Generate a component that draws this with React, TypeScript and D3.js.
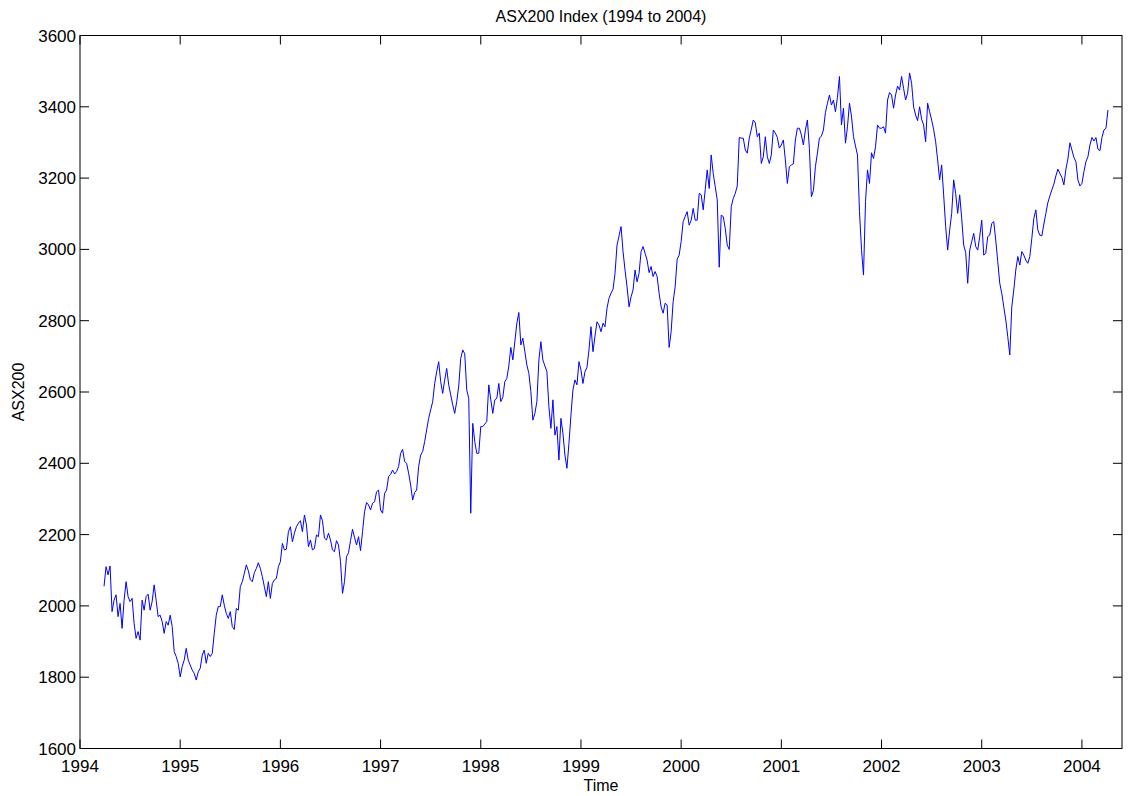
import React from 'react';
import * as d3 from 'd3';

// Weekly readings of the ASX200 index (decimal year time base, step 0.02 yr)
const startYear = 1994.24;
const stepYears = 0.02;
const asx200Values: number[] = [
  2055, 2110, 2087, 2112, 1984, 2016, 2031, 1970, 2007, 1937,
  2016, 2068, 2026, 2012, 2021, 1951, 1909, 1928, 1904, 2016,
  1988, 2026, 2033, 1988, 2012, 2059, 2016, 1970, 1974, 1956,
  1923, 1956, 1946, 1974, 1942, 1872, 1858, 1839, 1801, 1830,
  1848, 1881, 1848, 1834, 1820, 1811, 1792, 1815, 1825, 1862,
  1876, 1839, 1867, 1858, 1867, 1923, 1974, 1998, 1998, 2031,
  2002, 1979, 1965, 1984, 1942, 1934, 1993, 1988, 2054, 2068,
  2091, 2115, 2099, 2073, 2068, 2093, 2105, 2121, 2105, 2082,
  2054, 2026, 2068, 2021, 2063, 2073, 2077, 2110, 2124, 2175,
  2157, 2159, 2208, 2222, 2180, 2204, 2222, 2232, 2239, 2208,
  2255, 2227, 2166, 2185, 2157, 2161, 2199, 2194, 2255, 2239,
  2190, 2185, 2204, 2185, 2157, 2152, 2183, 2171, 2125,
  // 1996.62 -
  2035, 2068, 2138, 2149, 2183, 2215, 2192, 2171, 2194, 2155,
  2208, 2264, 2290, 2283, 2269, 2288, 2292, 2320, 2325, 2269,
  2260, 2316, 2325, 2363, 2369, 2381, 2370, 2377, 2391, 2428,
  2439, 2405, 2400, 2372, 2339, 2297, 2318, 2325, 2391, 2423,
  2433, 2461, 2494, 2526, 2550, 2573, 2624, 2657, 2685, 2629,
  2596, 2634, 2666, 2620, 2592, 2564, 2540, 2573, 2617, 2694,
  2718, 2707, 2606, 2582, 2260, 2512, 2461, 2428, 2428, 2503,
  2503, 2510, 2517, 2620, 2578, 2540, 2578, 2582, 2624, 2573,
  2585, 2629, 2638, 2673, 2725, 2690, 2741, 2793, 2823, 2732,
  2751, 2713, 2676, 2652, 2601, 2521, 2540, 2573, 2690, 2741,
  2690, 2673, 2657, 2559, 2498, 2578, 2479, 2503, 2409, 2526,
  2484, 2423, 2386, 2456, 2535, 2606, 2634, 2620, 2685, 2662,
  2624, 2657, 2669, 2718, 2783, 2713, 2757, 2797, 2788,
  // 1999.2 -
  2769, 2793, 2783, 2835, 2863, 2877, 2888, 2933, 3012, 3038,
  3064, 2994, 2942, 2895, 2839, 2867, 2886, 2942, 2909, 2933,
  2994, 3008, 2989, 2970, 2935, 2952, 2924, 2938, 2924, 2877,
  2839, 2821, 2849, 2844, 2725, 2769, 2853, 2895, 2972, 2984,
  3022, 3078, 3092, 3106, 3068, 3082, 3115, 3082, 3082, 3157,
  3153, 3111, 3167, 3223, 3171, 3265, 3213, 3176, 3139, 2950,
  3096, 3092, 3059, 3012, 3000, 3120, 3143, 3157, 3178, 3314,
  3312, 3312, 3279, 3270, 3312, 3337, 3363, 3355, 3316, 3326,
  3241, 3260, 3316, 3260, 3241, 3265, 3335, 3326, 3314, 3284,
  3293, 3307, 3251, 3185, 3232, 3237, 3240, 3307, 3340, 3340,
  3321, 3293, 3335, 3363, 3283, 3148, 3165, 3232, 3270, 3312,
  3318, 3335, 3384, 3410, 3433, 3405, 3419, 3386, 3427, 3485,
  3349, 3396, 3298, 3344, 3410, 3374, 3316, 3290, 3265, 3106,
  // 2001.8 -
  3000, 2928, 3134, 3223, 3185, 3271, 3255, 3288, 3349, 3340,
  3340, 3344, 3326, 3419, 3440, 3433, 3396, 3433, 3458, 3447,
  3485, 3452, 3419, 3438, 3495, 3466, 3400, 3377, 3361, 3400,
  3365, 3349, 3302, 3410, 3386, 3363, 3337, 3302, 3251, 3195,
  3237, 3153, 3064, 2998, 3054, 3101, 3195, 3157, 3101, 3153,
  3087, 3012, 2991, 2905, 2998, 3022, 3045, 3008, 2998, 3036,
  3082, 2984, 2989, 3036, 3040, 3073, 3078, 3026, 2966, 2905,
  2877, 2839, 2802, 2755, 2704, 2839, 2886, 2942, 2980, 2956,
  2994, 2984, 2970, 2961, 2980, 3031, 3087, 3111, 3054, 3040,
  3038, 3071, 3101, 3131, 3150, 3167, 3183, 3206, 3225, 3213,
  3202, 3181, 3225, 3254, 3299, 3279, 3258, 3246, 3195, 3178,
  3185, 3218, 3246, 3260, 3293, 3314, 3304, 3314, 3281, 3277,
  3314, 3335, 3340, 3391,
];

const xTickValues = [1994, 1995, 1996, 1997, 1998, 1999, 2000, 2001, 2002, 2003, 2004];
const yTickValues = [1600, 1800, 2000, 2200, 2400, 2600, 2800, 3000, 3200, 3400, 3600];

const titleText = 'ASX200 Index (1994 to 2004)';
const xLabelText = 'Time';
const yLabelText = 'ASX200';

export default function App() {
  const W = 1128;
  const H = 796;
  const left = 80;
  const right = 1122;
  const top = 35.5;
  const bottom = 748.5;
  const tickLen = 9;
  const font = '"Liberation Sans", Arial, Helvetica, sans-serif';

  const x = d3.scaleLinear().domain([1994, 2004.4]).range([left, right]);
  const y = d3.scaleLinear().domain([1600, 3600]).range([bottom, top]);

  const data = asx200Values.map((v, i) => ({ t: startYear + i * stepYears, v }));
  const line = d3
    .line<{ t: number; v: number }>()
    .x((d) => x(d.t))
    .y((d) => y(d.v));

  return (
    <svg
      width={W}
      height={H}
      style={{ position: 'absolute', left: 0, top: 0, background: '#fff' }}
      fontFamily={font}
    >
      <rect x={0} y={0} width={W} height={H} fill="#fff" />
      <path d={line(data) || ''} fill="none" stroke="#0000ff" strokeWidth={1} />
      {/* box */}
      <rect x={left} y={top} width={right - left} height={bottom - top} fill="none" stroke="#000" strokeWidth={1} />
      {/* x ticks */}
      {xTickValues.map((t) => (
        <g key={'x' + t}>
          <line x1={x(t)} x2={x(t)} y1={bottom} y2={bottom - tickLen} stroke="#000" strokeWidth={1} />
          <line x1={x(t)} x2={x(t)} y1={top} y2={top + tickLen} stroke="#000" strokeWidth={1} />
          <text x={x(t)} y={bottom + 23} fontSize={17} textAnchor="middle" fill="#000">
            {t}
          </text>
        </g>
      ))}
      {/* y ticks */}
      {yTickValues.map((v) => (
        <g key={'y' + v}>
          <line x1={left} x2={left + tickLen} y1={y(v)} y2={y(v)} stroke="#000" strokeWidth={1} />
          <line x1={right} x2={right - tickLen} y1={y(v)} y2={y(v)} stroke="#000" strokeWidth={1} />
          <text x={left - 4} y={y(v) + 6} fontSize={17} textAnchor="end" fill="#000">
            {v}
          </text>
        </g>
      ))}
      <text x={(left + right) / 2} y={22} fontSize={16} textAnchor="middle" fill="#000">
        {titleText}
      </text>
      <text x={(left + right) / 2} y={791} fontSize={16} textAnchor="middle" fill="#000">
        {xLabelText}
      </text>
      <text
        transform={`translate(24, ${(top + bottom) / 2}) rotate(-90)`}
        fontSize={16}
        textAnchor="middle"
        fill="#000"
      >
        {yLabelText}
      </text>
    </svg>
  );
}
